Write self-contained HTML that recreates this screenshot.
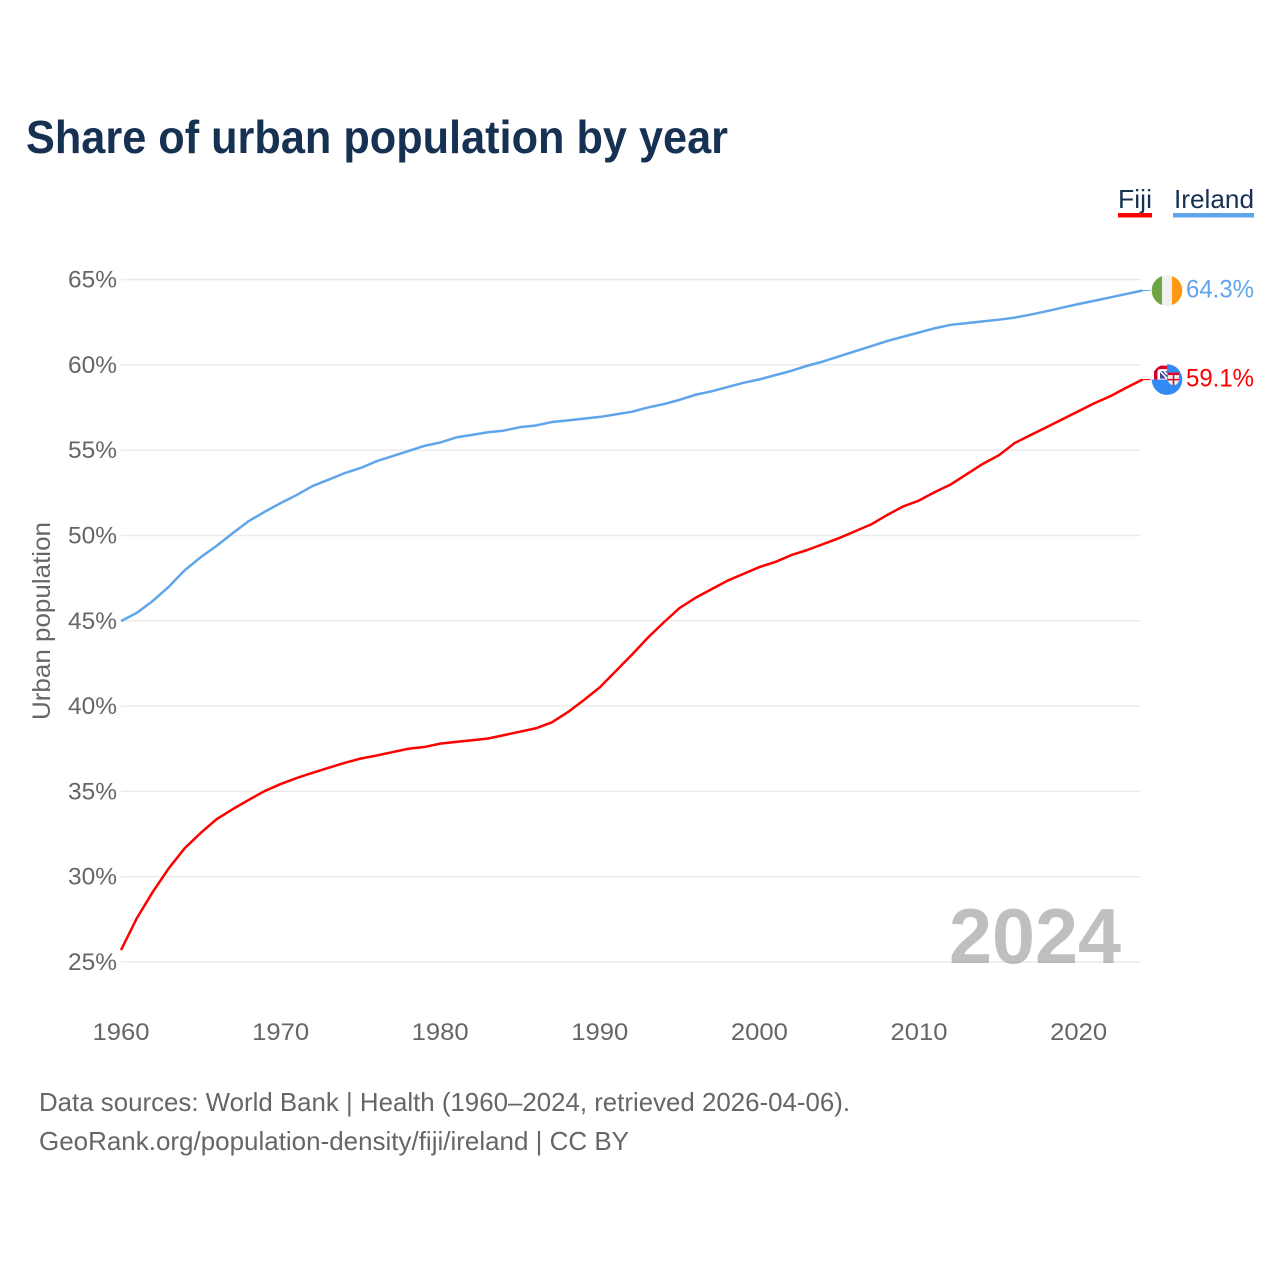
<!DOCTYPE html>
<html lang="en">
<head>
<meta charset="utf-8">
<title>Share of urban population by year</title>
<style>
html,body{margin:0;padding:0;background:#fff;width:1280px;height:1280px;overflow:hidden}
svg{display:block;font-family:"Liberation Sans",sans-serif}
</style>
</head>
<body>
<svg id="chart" width="1280" height="1280" viewBox="0 0 1280 1280" xmlns="http://www.w3.org/2000/svg">
  <defs>
    <clipPath id="flag-clip"><circle cx="0" cy="0" r="15.3"></circle></clipPath>
  </defs>
  <rect width="1280" height="1280" fill="#ffffff"></rect>
  <text x="26" y="153" font-size="46" font-weight="700" fill="#173152" textLength="702" lengthAdjust="spacingAndGlyphs">Share of urban population by year</text>

  <g>
    <g>
      <text x="1118" y="208" font-size="26" fill="#173152" textLength="34" lengthAdjust="spacingAndGlyphs">Fiji</text>
      <rect x="1118" y="213" width="34" height="4.5" fill="#ff0000"></rect>
    </g>
    <g>
      <text x="1174" y="208" font-size="26" fill="#173152" textLength="80" lengthAdjust="spacingAndGlyphs">Ireland</text>
      <rect x="1173" y="213" width="81" height="4.5" fill="#60a5ea"></rect>
    </g>
  </g>

  <g id="grid"></g>
  <g id="y-axis"></g>
  <g id="x-axis"></g>
  <text transform="translate(50,621) rotate(-90)" text-anchor="middle" font-size="25" fill="#666666" textLength="198" lengthAdjust="spacingAndGlyphs">Urban population</text>

  <text x="949" y="963" font-size="78" font-weight="700" fill="#808080" fill-opacity="0.5" textLength="172" lengthAdjust="spacingAndGlyphs">2024</text>

  <g id="series"></g>

  <g id="flag-ireland" clip-path="url(#flag-clip)">
    <rect x="-16" y="-16" width="32" height="32" fill="#f0f0f0"></rect>
    <rect x="-16" y="-16" width="11" height="32" fill="#6da544"></rect>
    <rect x="5" y="-16" width="11" height="32" fill="#ff9811"></rect>
  </g>

  <g id="flag-fiji" clip-path="url(#flag-clip)">
    <rect x="-16" y="-16" width="32" height="32" fill="#338af3"></rect>
    <rect x="-16" y="-16" width="16" height="16" fill="#ffffff"></rect>
    <path d="M-13 0V-8A6 6 0 0 1-7-14H0V-10.500H-7A2.500 2.500 0 0 0-9.500-8V0Z" fill="#d80027"></path>
    <rect x="-7" y="-8.500" width="7" height="7.500" fill="#41479b"></rect>
    <path d="M-7-8.500L0-1M-3-8.500L0-5" stroke="#ffffff" stroke-width="1.600" fill="none"></path>
    <path d="M1-7H12V0A5.500 5.500 0 0 1 6.500 5.500A5.500 5.500 0 0 1 1 0Z" fill="#f0f0f0"></path>
    <rect x="1" y="-7" width="11" height="2.500" fill="#d80027"></rect>
    <path d="M6.500-4.500V5.500M1 0H12" stroke="#d80027" stroke-width="1.500"></path>
  </g>

  <g id="value-labels"></g>

  <g>
    <text x="39" y="1111" font-size="26" fill="#666666" textLength="811" lengthAdjust="spacingAndGlyphs">Data sources: World Bank | Health (1960–2024, retrieved 2026-04-06).</text>
    <text x="39" y="1150" font-size="26" fill="#666666" textLength="590" lengthAdjust="spacingAndGlyphs">GeoRank.org/population-density/fiji/ireland | CC BY</text>
  </g>
</svg>

<script>
const years = [1960,1961,1962,1963,1964,1965,1966,1967,1968,1969,1970,1971,1972,1973,1974,1975,1976,1977,1978,1979,1980,1981,1982,1983,1984,1985,1986,1987,1988,1989,1990,1991,1992,1993,1994,1995,1996,1997,1998,1999,2000,2001,2002,2003,2004,2005,2006,2007,2008,2009,2010,2011,2012,2013,2014,2015,2016,2017,2018,2019,2020,2021,2022,2023,2024];
const fijiValues = [25.7,27.58,29.12,30.5,31.68,32.57,33.38,33.96,34.5,35.02,35.43,35.78,36.09,36.38,36.67,36.92,37.1,37.3,37.5,37.6,37.8,37.9,38.0,38.1,38.3,38.5,38.7,39.05,39.65,40.35,41.1,42.05,43.0,44.0,44.9,45.75,46.35,46.85,47.35,47.75,48.15,48.45,48.85,49.15,49.5,49.85,50.25,50.65,51.2,51.7,52.05,52.55,53.0,53.6,54.2,54.7,55.42,55.89,56.35,56.82,57.29,57.76,58.17,58.67,59.14];
const irelandValues = [44.98,45.47,46.17,47.0,47.97,48.73,49.4,50.14,50.84,51.39,51.9,52.37,52.9,53.27,53.65,53.95,54.35,54.65,54.95,55.25,55.45,55.75,55.9,56.05,56.15,56.35,56.45,56.65,56.75,56.85,56.95,57.1,57.25,57.5,57.7,57.95,58.25,58.45,58.7,58.95,59.15,59.4,59.65,59.95,60.2,60.5,60.8,61.1,61.4,61.65,61.9,62.15,62.35,62.45,62.55,62.65,62.77,62.95,63.15,63.36,63.57,63.76,63.96,64.16,64.36];
const yTicks = [25,30,35,40,45,50,55,60,65];
const xTicks = [1960,1970,1980,1990,2000,2010,2020];
const latestLabels = ['59.1%','64.3%'];

const NS = 'http://www.w3.org/2000/svg';
const xScale = year => 121 + (year - 1960) * 15.96;
const yScale = value => 962 - (value - 25) * 17.06;
const GRID_RIGHT = 1141;

const gridGroup = document.getElementById('grid');
const yAxisGroup = document.getElementById('y-axis');
const xAxisGroup = document.getElementById('x-axis');
const seriesGroup = document.getElementById('series');
const valueGroup = document.getElementById('value-labels');

yTicks.forEach(tick => {
  const line = document.createElementNS(NS, 'line');
  
  
  line.setAttribute('x1', xScale(1960));
  line.setAttribute('x2', GRID_RIGHT);
  line.setAttribute('y1', yScale(tick));
  line.setAttribute('y2', yScale(tick));
  line.setAttribute('stroke', '#ebebeb');
  line.setAttribute('stroke-width', '1.5');
  gridGroup.appendChild(line);

  const label = document.createElementNS(NS, 'text');
  
  
  label.setAttribute('x', 68);
  label.setAttribute('y', yScale(tick) + 8);
  label.setAttribute('font-size', '24');
  label.setAttribute('fill', '#666666');
  label.setAttribute('textLength', '49');
  label.setAttribute('lengthAdjust', 'spacingAndGlyphs');
  label.textContent = tick + '%';
  yAxisGroup.appendChild(label);
});

xTicks.forEach(tick => {
  const label = document.createElementNS(NS, 'text');
  
  
  label.setAttribute('x', xScale(tick) - 28.5);
  label.setAttribute('y', 1040);
  label.setAttribute('font-size', '24');
  label.setAttribute('fill', '#666666');
  label.setAttribute('textLength', '57');
  label.setAttribute('lengthAdjust', 'spacingAndGlyphs');
  label.textContent = tick;
  xAxisGroup.appendChild(label);
});

function drawSeries(values, color, lineName, connectorName) {
  const path = document.createElementNS(NS, 'path');
  
  
  path.setAttribute('d', values.map((v, i) => (i ? 'L' : 'M') + xScale(years[i]).toFixed(2) + ' ' + yScale(v).toFixed(2)).join(''));
  path.setAttribute('fill', 'none');
  path.setAttribute('stroke', color);
  path.setAttribute('stroke-width', '2.5');
  path.setAttribute('stroke-linejoin', 'round');
  seriesGroup.appendChild(path);

  const lastY = yScale(values[values.length - 1]);
  const lastX = xScale(years[years.length - 1]);
  const connector = document.createElementNS(NS, 'line');
  
  
  connector.setAttribute('x1', lastX);
  connector.setAttribute('x2', lastX + 8);
  connector.setAttribute('y1', lastY);
  connector.setAttribute('y2', lastY);
  connector.setAttribute('stroke', color);
  connector.setAttribute('stroke-width', '1');
  seriesGroup.appendChild(connector);
  return lastY;
}

const fijiLastY = drawSeries(fijiValues, '#ff0000', 'fiji-line', 'fiji-connector');
const irelandLastY = drawSeries(irelandValues, '#60a5ea', 'ireland-line', 'ireland-connector');

document.getElementById('flag-fiji').setAttribute('transform', 'translate(1167,' + fijiLastY + ')');
document.getElementById('flag-ireland').setAttribute('transform', 'translate(1167,' + irelandLastY + ')');

const fijiValueLabel = document.createElementNS(NS, 'text');


fijiValueLabel.setAttribute('x', 1186);
fijiValueLabel.setAttribute('y', fijiLastY + 7);
fijiValueLabel.setAttribute('font-size', '25');
fijiValueLabel.setAttribute('fill', '#ff0000');
fijiValueLabel.setAttribute('textLength', '68');
fijiValueLabel.setAttribute('lengthAdjust', 'spacingAndGlyphs');
fijiValueLabel.textContent = latestLabels[0];
valueGroup.appendChild(fijiValueLabel);

const irelandValueLabel = document.createElementNS(NS, 'text');


irelandValueLabel.setAttribute('x', 1186);
irelandValueLabel.setAttribute('y', irelandLastY + 7);
irelandValueLabel.setAttribute('font-size', '25');
irelandValueLabel.setAttribute('fill', '#60a5ea');
irelandValueLabel.setAttribute('textLength', '68');
irelandValueLabel.setAttribute('lengthAdjust', 'spacingAndGlyphs');
irelandValueLabel.textContent = latestLabels[1];
valueGroup.appendChild(irelandValueLabel);
</script>
</body>
</html>
